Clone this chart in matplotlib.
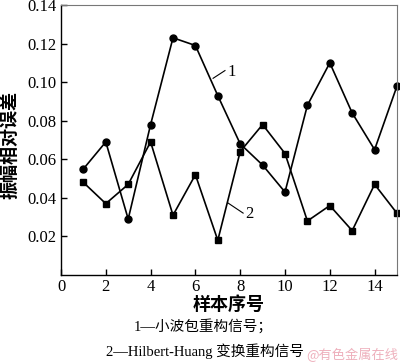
import matplotlib.pyplot as plt
import numpy as np

plt.rcParams['font.family'] = ['Liberation Serif', 'Noto Sans CJK SC']

# 样本序号
samples = np.arange(1, 16)
# 1 — 小波包重构信号
err_wavelet = [0.055, 0.069, 0.029, 0.078, 0.123, 0.119, 0.093, 0.068,
               0.057, 0.043, 0.088, 0.110, 0.084, 0.065, 0.098]
# 2 — Hilbert-Huang 变换重构信号
err_hht = [0.048, 0.037, 0.047, 0.069, 0.031, 0.052, 0.018, 0.064,
           0.078, 0.063, 0.028, 0.036, 0.023, 0.047, 0.032]

xticks = [0, 2, 4, 6, 8, 10, 12, 14]
yticks = [0.02, 0.04, 0.06, 0.08, 0.10, 0.12, 0.14]


def main():
    fig = plt.figure(figsize=(4.0, 3.63), dpi=100)
    ax = fig.add_axes([61 / 400, 1 - 275 / 363, 336 / 400, 270 / 363])

    ax.plot(samples, err_wavelet, '-o', color='black', lw=1.2, ms=5, clip_on=False)
    ax.plot(samples, err_hht, '-s', color='black', lw=1.2, ms=4.5, clip_on=False)

    ax.set_xlim(0, 15)
    ax.set_ylim(0, 0.14)
    ax.set_xticks(xticks)
    ax.set_yticks(yticks)
    ax.set_yticklabels(['%.2f' % v for v in yticks])
    ax.tick_params(direction='in', length=4, labelsize=12, width=1)
    ax.tick_params(axis='x', pad=3)
    ax.tick_params(axis='y', pad=3)

    for s in ['top', 'right']:
        ax.spines[s].set_color('#777777')
        ax.spines[s].set_linewidth(0.8)
    for s in ['left', 'bottom']:
        ax.spines[s].set_linewidth(1.0)

    # curve labels
    ax.plot([6.79, 7.32], [0.102, 0.106], color='black', lw=0.8)
    ax.text(7.6, 0.105, '1', ha='center', va='center', fontsize=12)
    ax.plot([7.46, 8.13], [0.0373, 0.0321], color='black', lw=0.8)
    ax.text(8.4, 0.0316, '2', ha='center', va='center', fontsize=12)

    fig.text(10 / 400, 1 - 145 / 363, '振幅相对误差', rotation=90, ha='center',
             va='center', fontsize=13, fontweight='bold')
    fig.text(229 / 400, 1 - 305 / 363, '样本序号', ha='center', va='center',
             fontsize=13, fontweight='bold')
    fig.text(203 / 400, 1 - 326 / 363, '1—小波包重构信号；', ha='center',
             va='center', fontsize=10.5)
    fig.text(205 / 400, 1 - 351 / 363, '2—Hilbert-Huang 变换重构信号', ha='center',
             va='center', fontsize=10.5)
    fig.text(398 / 400, 1 - 355 / 363, '@有色金属在线', ha='right', va='center',
             fontsize=9.5, color='#eeb0bc', family=['Noto Sans CJK SC'])

    fig.savefig('out.png', dpi=100)


if __name__ == '__main__':
    main()
